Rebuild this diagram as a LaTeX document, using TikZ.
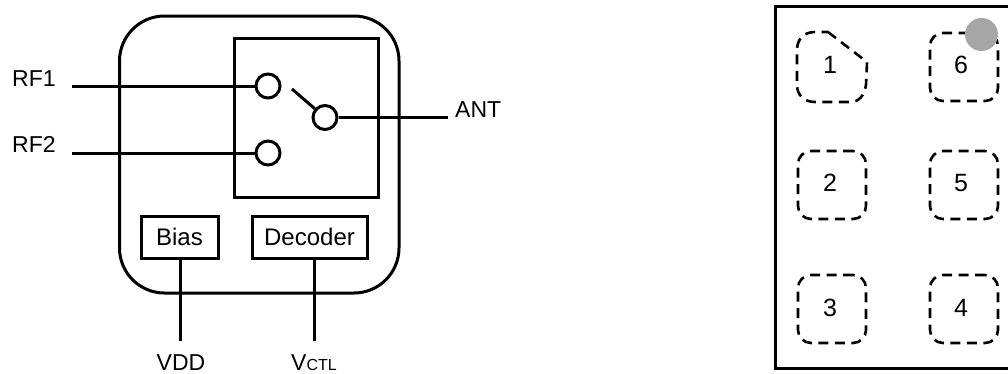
\documentclass[tikz,border=0pt]{standalone}
\usepackage{fontspec}
\setmainfont{Liberation Sans}
\tikzset{
  wire/.style={line width=3pt,line cap=butt},
  block/.style={draw,line width=3pt,inner sep=0pt,font=\fontsize{24}{24}\selectfont},
  contact/.style={circle,draw,line width=3pt,fill=white,minimum size=24pt,inner sep=0pt},
  lbl/.style={inner sep=0pt,font=\fontsize{23}{23}\selectfont},
  padbox/.style={draw,line width=2.6pt,dash pattern=on 10pt off 6.5pt,rounded corners=13pt,minimum size=68pt,inner sep=0pt},
  padlbl/.style={inner sep=0pt,font=\fontsize{25}{25}\selectfont}
}
\begin{document}
\begin{tikzpicture}[x=1pt,y=-1pt]
\useasboundingbox (0,0) rectangle (1008,373);
% package outline
\node[draw,line width=3pt,rounded corners=45pt,minimum width=279.5pt,minimum height=277pt,inner sep=0pt] (chip) at (259.25,154.5) {};
\node[draw,line width=3pt,minimum width=144pt,minimum height=159pt,inner sep=0pt] (sw) at (306,117.5) {};
\node[contact] (c1) at (268,86) {};
\node[contact] (c2) at (268,153) {};
\node[contact] (c3) at (325,117.5) {};
\node[block,minimum width=77pt,minimum height=42pt] (bias) at (179.5,237) {Bias};
\node[block,minimum width=115pt,minimum height=42pt] (dec) at (309.5,237) {Decoder};
\node[lbl,anchor=base west] (rf1) at (12,86) {RF1};
\node[lbl,anchor=base west] (rf2) at (12,152.5) {RF2};
\node[lbl,anchor=base west] (ant) at (455,117) {ANT};
\node[lbl,anchor=base] (vdd) at (181,370) {VDD};
\node[lbl,anchor=base west] (vctl) at (291,370) {V{\fontsize{16}{16}\selectfont CTL}};
\coordinate (rf1e) at (72,86);
\coordinate (rf2e) at (72,153);
\coordinate (ante) at (448,117.5);
\coordinate (vdde) at (180,341);
\coordinate (vctle) at (314.5,341);
\coordinate (lever) at (292,89);
\draw[wire] (rf1e) -- (c1);
\draw[wire] (rf2e) -- (c2);
\draw[wire] (c3) -- (ante);
\draw[wire] (lever) -- (c3);
\draw[wire] (vdde) -- (vdde |- bias.south);
\draw[wire] (vctle) -- (vctle |- dec.south);
% footprint
\node[draw,line width=3pt,outer sep=0pt,minimum width=245pt,minimum height=361.5pt,inner sep=0pt,anchor=north west] (pkg) at (775.5,6.8) {};
\draw[line width=2.6pt,dash pattern=on 10pt off 6.5pt]
  (828,32) -- (867,62) -- (866,85) .. controls (864,97) and (858,102) .. (850,102)
  -- (815,102) .. controls (804,102) and (797,95) .. (797,85)
  -- (797,50) .. controls (797,39) and (804,32) .. (815,32) -- cycle;
\node[padbox] (p2) at (832,185) {};
\node[padbox] (p3) at (832,309) {};
\node[padbox] (p4) at (964,309) {};
\node[padbox] (p5) at (964,185) {};
\node[padbox] (p6) at (964,67) {};
\node[padlbl] (l1) at (830,65) {1};
\node[padlbl] (l2) at (830,183) {2};
\node[padlbl] (l3) at (830,308) {3};
\node[padlbl] (l4) at (961,308) {4};
\node[padlbl] (l5) at (961,183) {5};
\node[padlbl] (l6) at (961,65) {6};
\node[circle,fill=black!35,minimum size=33pt,inner sep=0pt] (dot) at (981.5,34.5) {};
\end{tikzpicture}
\end{document}
